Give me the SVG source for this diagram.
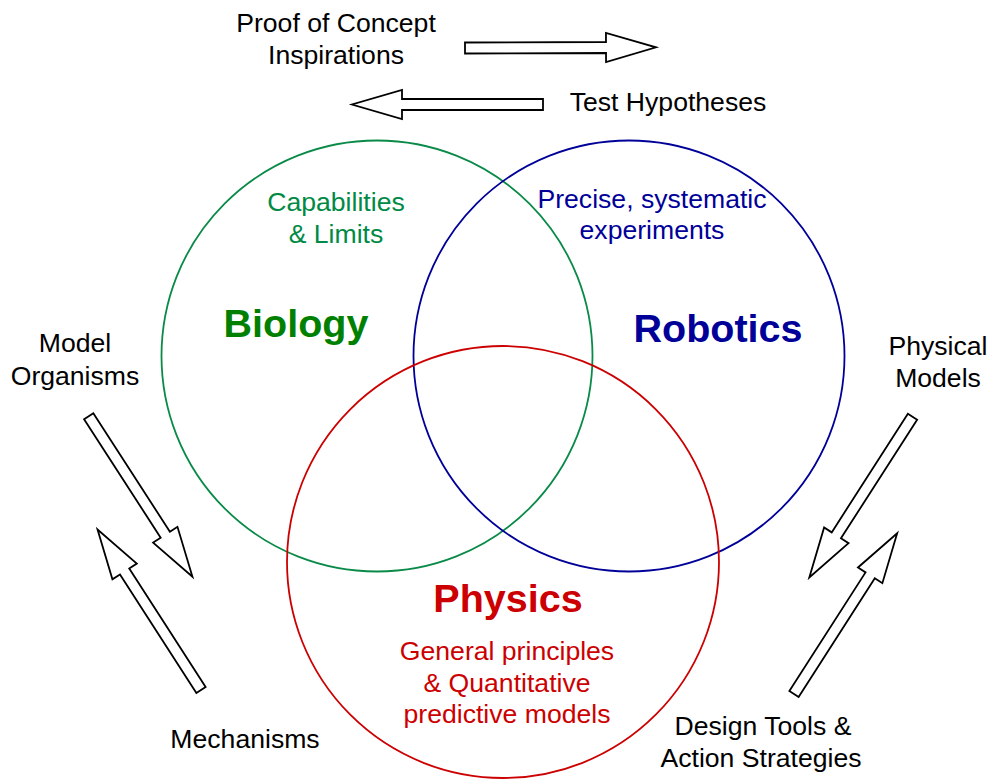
<svg xmlns="http://www.w3.org/2000/svg" xmlns:xlink="http://www.w3.org/1999/xlink" width="992" height="779" viewBox="0 0 992 779">
  <style>
    .lbl { font-family: "Liberation Sans", Arial, sans-serif; font-size: 26.6px; text-anchor: middle; fill: #000; }
    .title { font-family: "Liberation Sans", Arial, sans-serif; font-size: 39.5px; font-weight: bold; text-anchor: middle; }
    .ring { fill: none; stroke-width: 1.8; }
    .bio { fill: #008a45; }
    .rob { fill: #000099; }
    .phy { fill: #cc0000; }
    .arrow { fill: #fff; stroke: #000; stroke-width: 1.8; stroke-linejoin: miter; }
  </style>
  <defs>
    <!-- block arrow: tail at origin, tip 191px along +x -->
    <path id="blockArrow" d="M0,-5.5 L141,-5.5 L141,-14.5 L191,0 L141,14.5 L141,5.5 L0,5.5 Z"/>
  </defs>
  <rect width="992" height="779" fill="#fff"/>

  <g id="biology">
    <circle class="ring" cx="377" cy="356" r="215.5" stroke="#0a8a48"/>
    <text class="title" x="296" y="337" fill="#008000">Biology</text>
    <text class="lbl bio" x="336" y="211">Capabilities</text>
    <text class="lbl bio" x="336" y="243">&amp; Limits</text>
  </g>

  <g id="robotics">
    <circle class="ring" cx="629" cy="356" r="215.5" stroke="#000099"/>
    <text class="title" x="718" y="342" fill="#000099">Robotics</text>
    <text class="lbl rob" x="652" y="208">Precise, systematic</text>
    <text class="lbl rob" x="652" y="239">experiments</text>
  </g>

  <g id="physics">
    <circle class="ring" cx="503" cy="562" r="216" stroke="#cc0000"/>
    <text class="title" x="508" y="612" fill="#cc0000">Physics</text>
    <text class="lbl phy" x="507" y="660">General principles</text>
    <text class="lbl phy" x="507" y="692">&amp; Quantitative</text>
    <text class="lbl phy" x="507" y="723">predictive models</text>
  </g>

  <g id="labels">
    <text class="lbl" x="336" y="32">Proof of Concept</text>
    <text class="lbl" x="336" y="64">Inspirations</text>
    <text class="lbl" x="668" y="111">Test Hypotheses</text>
    <text class="lbl" x="75" y="352">Model</text>
    <text class="lbl" x="75" y="385">Organisms</text>
    <text class="lbl" x="938" y="355">Physical</text>
    <text class="lbl" x="938" y="387">Models</text>
    <text class="lbl" x="245" y="748">Mechanisms</text>
    <text class="lbl" x="763" y="735">Design Tools &amp;</text>
    <text class="lbl" x="761" y="767">Action Strategies</text>
  </g>

  <g id="connectors">
    <use xlink:href="#blockArrow" class="arrow" transform="translate(465,48) rotate(-0.2)"/>
    <use xlink:href="#blockArrow" class="arrow" transform="translate(543,104.5) rotate(180)"/>
    <use xlink:href="#blockArrow" class="arrow" transform="translate(88.7,416.3) rotate(57.1)"/>
    <use xlink:href="#blockArrow" class="arrow" transform="translate(201,690) rotate(-122.8)"/>
    <use xlink:href="#blockArrow" class="arrow" transform="translate(912.5,416.7) rotate(122.7)"/>
    <use xlink:href="#blockArrow" class="arrow" transform="translate(794,694) rotate(-57.3)"/>
  </g>
</svg>
